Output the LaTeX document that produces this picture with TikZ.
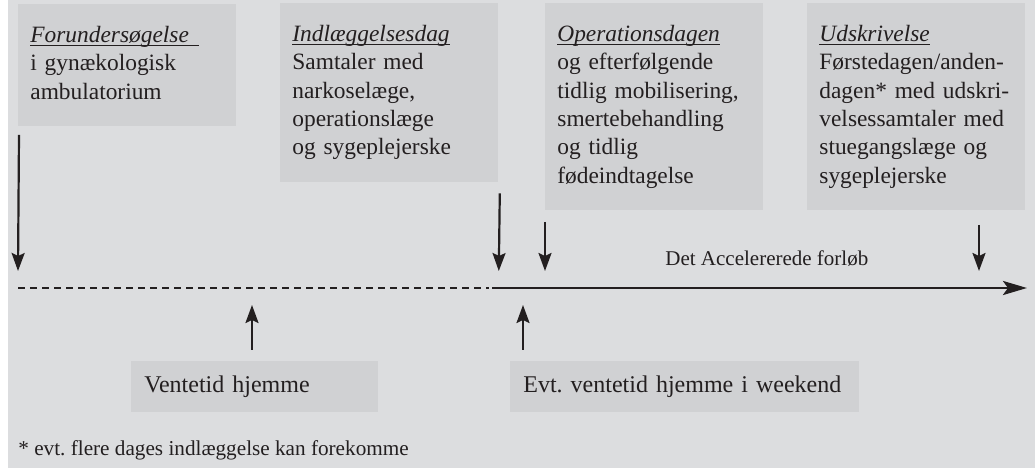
\documentclass[tikz,border=0pt]{standalone}
\usepackage{fontspec}
\setmainfont{Liberation Serif}
\usepackage{xcolor}
\usetikzlibrary{arrows.meta,calc}

\definecolor{baggrund}{RGB}{220,221,223}
\definecolor{boksfarve}{RGB}{208,209,211}
\definecolor{skrift}{RGB}{35,31,32}

\newsavebox{\fasebox}
\newcommand{\fase}[1]{\sbox{\fasebox}{\textit{#1}}%
  \rlap{\rule[-1.8pt]{\wd\fasebox}{0.5pt}}\usebox{\fasebox}}

\tikzset{
  faseboks/.style={fill=boksfarve, text=skrift, anchor=north west, align=left,
    text width=97pt, inner xsep=6pt, inner ysep=11pt,
    font={\fontsize{11.7pt}{14.17pt}\selectfont},
    execute at end node={\vphantom{g}}},
  ventboks/.style={fill=boksfarve, text=skrift, anchor=north west, align=left,
    inner xsep=6.5pt, minimum height=25.5pt,
    font={\fontsize{12pt}{14pt}\selectfont}},
  pil/.style={draw=skrift, line width=1.1pt,
    -{Stealth[length=9pt,width=6.5pt,inset=1.5pt]}},
  tidslinje/.style={draw=skrift, line width=1.4pt}
}

\begin{document}
\begin{tikzpicture}[x=0.5pt,y=-0.5pt]

  \useasboundingbox (0,0) rectangle (1035,470);
  \fill[baggrund] (8,0) rectangle (1035,468);

  % faserne
  \node[faseboks] (forund) at (18,4)
    {\fase{Forundersøgelse\hphantom{x}}\\ i gynækologisk\\ ambulatorium};
  \node[faseboks] (indl) at (280,3)
    {\fase{Indlæggelsesdag}\\ Samtaler med\\ narkoselæge,\\ operationslæge\\ og sygeplejerske};
  \node[faseboks] (operation) at (545,3)
    {\fase{Operationsdagen}\\ og efterfølgende\\ tidlig mobilisering,\\ smertebehandling\\ og tidlig\\ fødeindtagelse};
  \node[faseboks] (udskriv) at (807,3)
    {\fase{Udskrivelse}\\ Førstedagen/anden-\\ dagen* med udskri-\\ velsessamtaler med\\ stuegangslæge og\\ sygeplejerske};

  % tidslinjen
  \coordinate (start) at (18,288);
  \coordinate (skift) at (489,288);
  \coordinate (slut) at (1027,288);
  \draw[tidslinje, dash pattern=on 3.6pt off 2.4pt] (start) -- (skift);
  \draw[tidslinje, -{Stealth[length=12pt,width=7pt,inset=2.5pt]}] ($(skift)+(3,0)$) -- (slut);

  \coordinate (ned) at (0,271);
  \coordinate (ned4) at (979,271);
  \draw[pil] ($(forund.south west)+(1,8)$) -- (forund.south west |- ned);
  \draw[pil] ($(indl.south east)+(1,11)$) -- (indl.south east |- ned);
  \draw[pil] ($(operation.south west)+(0,11)$) -- (operation.south west |- ned);
  \draw[pil] ($(udskriv.south -| ned4)+(0,14)$) -- (ned4);

  \node[anchor=base west, inner sep=0, text=skrift, font={\fontsize{10.5pt}{12pt}\selectfont}]
    (forloeb) at (665,266) {Det Accelererede forløb};

  % ventetider
  \node[ventboks, text width=110.5pt] (vent) at (131,361) {Ventetid hjemme};
  \node[ventboks, text width=161.5pt] (weekend) at (510,361) {Evt.\ ventetid hjemme i weekend};

  \coordinate (op1) at (252,305);
  \coordinate (op2) at (523,305);
  \draw[pil] ($(vent.north -| op1)+(0,-11)$) -- (op1);
  \draw[pil] ($(weekend.north -| op2)+(0,-11)$) -- (op2);

  \node[anchor=base west, inner sep=0, text=skrift, font={\fontsize{10.6pt}{12pt}\selectfont}]
    (note) at (18,456) {* evt.\ flere dages indlæggelse kan forekomme};

\end{tikzpicture}
\end{document}
